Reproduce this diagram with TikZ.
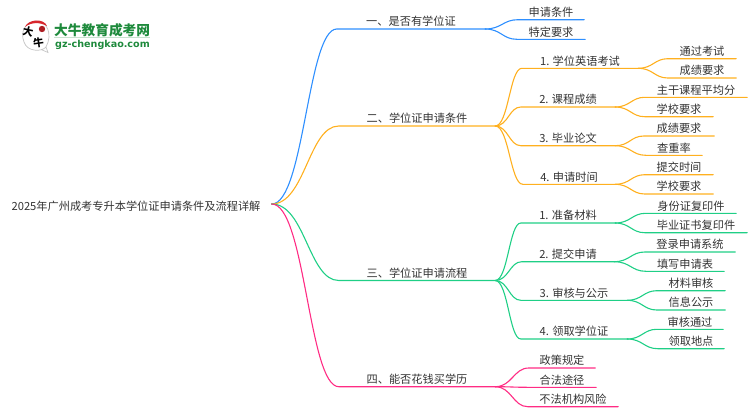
\documentclass[tikz,border=0pt]{standalone}
\usepackage{fontspec}
\setmainfont{Noto Sans CJK SC}
\newfontfamily\logolatin{DejaVu Sans}
\usetikzlibrary{calc}
\definecolor{lineblue}{HTML}{2E8FFF}
\definecolor{lineorange}{HTML}{FFB01F}
\definecolor{linegreen}{HTML}{1FCF86}
\definecolor{linepink}{HTML}{FF2C84}
\definecolor{inkgrey}{HTML}{333333}
\definecolor{logogreen}{HTML}{1E8A3C}
\definecolor{logored}{HTML}{D8262C}
\tikzset{
    topic/.style={font=\fontsize{11.2}{13}\selectfont,text=inkgrey,inner xsep=0pt,inner ysep=1pt,
        text height=9pt,text depth=2pt,anchor=south},
    link/.style={line width=1.1pt,line cap=round},
}
\newcommand{\branchlink}[3]{
    \draw[link,draw=#1] let \p1=(#2), \p2=(#3.south west) in
        (\p1) .. controls ({\x1+0.5*(\x2-\x1)},\y1) and ({\x1+0.55*(\x2-\x1)},\y2) .. (\p2) -- (#3.south east);
}
\begin{document}
\begin{tikzpicture}[x=1pt,y=-1pt]
    \useasboundingbox (0,0) rectangle (750,410);
    % logo
    \draw[gray!45,fill=white,line width=0.7pt] (46,47) .. controls (42,52) and (27,52) .. (24,42)
        .. controls (20,32) and (25,22) .. (36,21) .. controls (47,21) and (53,34) .. (46,47) -- (48,52.5) -- (41,49.5);
    \fill[logored] (25,27) .. controls (28,19) and (44,18) .. (47,26) .. controls (40,22) and (31,22) .. (25,27);
    \fill[logored!80!black] (42,29) circle (3.2pt);
    \node[font=\fontsize{10.5}{11}\selectfont\bfseries,inner sep=0pt,rotate=-12] (logoda) at (28,31.5) {大};
    \node[font=\fontsize{10.5}{11}\selectfont\bfseries,inner sep=0pt,rotate=8] (logoniu) at (38.5,42.5) {牛};
    \node[font=\fontsize{13.7}{14}\selectfont\bfseries,text=logogreen,inner sep=0pt,anchor=west] (logoname) at (54,30) {大牛教育成考网};
    \node[font=\logolatin\fontsize{9.6}{12}\selectfont\bfseries,text=logogreen,inner sep=0pt,anchor=west] (logourl) at (55,44.5) {gz-chengkao.com};
    \draw[logogreen!25,line width=0.6pt] (logoname.south west) -- (logoname.south east);
    % root
    \node[font=\fontsize{11.2}{13}\selectfont,text=inkgrey,inner sep=0pt,minimum width=271pt,
        text height=12pt,text depth=0pt] (root) at (136,204) {2025年广州成考专升本学位证申请条件及流程详解};
    % main branches
    \foreach \nm/\col/\cx/\xe/\yy/\txt in {
        l1/lineblue/411/485/29/一、是否有学位证,
        l2/lineorange/417/495/126/二、学位证申请条件,
        l3/linegreen/417/495/280.5/三、学位证申请流程,
        l4/linepink/417/495/386.7/四、能否花钱买学历}{
        \node[topic,minimum width={2*(\xe-\cx)*1pt}] (\nm) at (\cx,\yy) {\txt};
        \branchlink{\col}{root.east}{\nm}
    }
    % sub branches
    \foreach \nm/\up/\col/\cx/\xe/\yy/\txt in {
        a1/l1/lineblue/551/584/19.7/申请条件,
        a2/l1/lineblue/551/585/39.3/特定要求,
        b1/l2/lineorange/580/638/68.3/1. 学位英语考试,
        b2/l2/lineorange/568/615/107/2. 课程成绩,
        b3/l2/lineorange/568/615/145.7/3. 毕业论文,
        b4/l2/lineorange/569/615/184.3/4. 申请时间,
        c1/l3/linegreen/568/615/223/1. 准备材料,
        c2/l3/linegreen/568/614/261.7/2. 提交申请,
        c3/l3/linegreen/574/627/300.3/3. 审核与公示,
        c4/l3/linegreen/574/627/339/4. 领取学位证,
        d1/l4/linepink/562/595/368/政策规定,
        d2/l4/linepink/562/596/387.3/合法途径,
        d3/l4/linepink/573/618/406.7/不法机构风险,
        b11/b1/lineorange/702/736/58.7/通过考试,
        b12/b1/lineorange/702/736/78/成绩要求,
        b21/b2/lineorange/696/747/97.3/主干课程平均分,
        b22/b2/lineorange/679/713/116.7/学校要求,
        b31/b3/lineorange/679/714/136/成绩要求,
        b32/b3/lineorange/674/702/155.3/查重率,
        b41/b4/lineorange/679/713/174.7/提交时间,
        b42/b4/lineorange/679/713/194/学校要求,
        c11/c1/linegreen/691/736/213.3/身份证复印件,
        c12/c1/linegreen/696/747/232.7/毕业证书复印件,
        c21/c2/linegreen/690/735/252/登录申请系统,
        c22/c2/linegreen/685/724/271.3/填写申请表,
        c31/c3/linegreen/691/725/290.7/材料审核,
        c32/c3/linegreen/691/725/310/信息公示,
        c41/c4/linegreen/690/723/329.3/审核通过,
        c42/c4/linegreen/691/724/348.7/领取地点}{
        \node[topic,minimum width={2*(\xe-\cx)*1pt}] (\nm) at (\cx,\yy) {\txt};
        \branchlink{\col}{\up.south east}{\nm}
    }
\end{tikzpicture}
\end{document}
